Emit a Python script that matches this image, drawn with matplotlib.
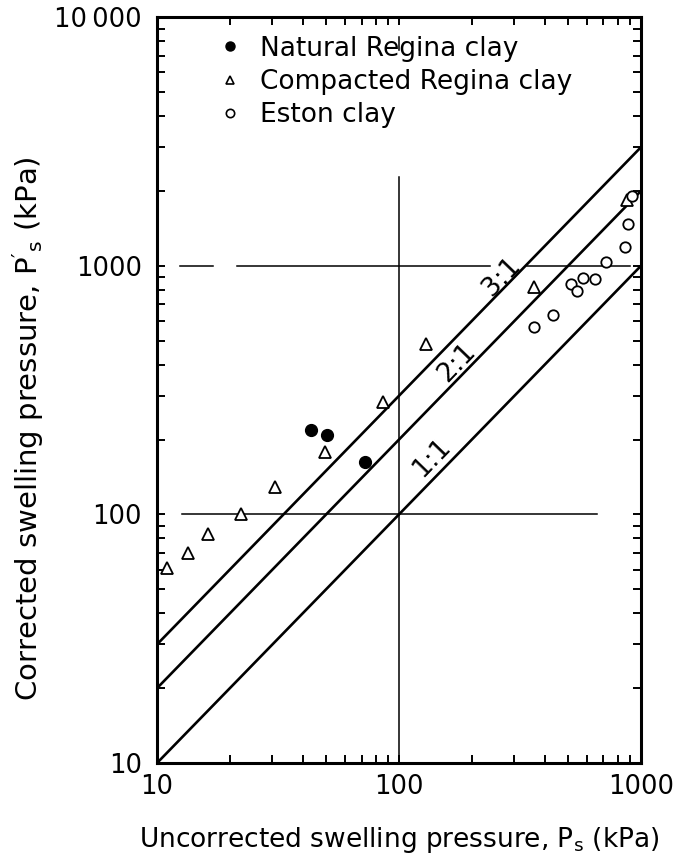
import matplotlib
matplotlib.use("Agg")
import matplotlib.pyplot as plt
from matplotlib.ticker import LogLocator, NullFormatter, FixedLocator, FixedFormatter
from matplotlib.lines import Line2D

plt.rcParams['font.family'] = ['DejaVu Sans']
plt.rcParams['mathtext.fontset'] = 'custom'
plt.rcParams['mathtext.rm'] = 'DejaVu Sans'

# Natural Regina clay (filled circles)
nat_x = [43.3, 50.4, 72.4]
nat_y = [219, 209, 163]

# Compacted Regina clay (open triangles)
comp_x = [11.0, 13.4, 16.3, 22.2, 30.8, 49.4, 85.9, 129, 361, 875]
comp_y = [60.7, 69.7, 83.2, 100, 129, 179, 284, 486, 824, 1842]

# Eston clay (open circles)
eston_x = [361, 433, 514, 544, 576, 645, 717, 859, 883, 918]
eston_y = [569, 636, 847, 794, 895, 887, 1038, 1192, 1475, 1910]

# ratio lines corrected / uncorrected
ratios = [1, 2, 3]
ratio_labels = ["1:1", "2:1", "3:1"]
ratio_label_pos = [(137, 169), (174, 407), (267, 904)]

x_ticks = [10, 100, 1000]
x_ticklabels = ["10", "100", "1000"]
y_ticks = [10, 100, 1000, 10000]
y_ticklabels = ["10", "100", "1000", "10\u2009000"]

fig = plt.figure(figsize=(6.78, 8.58), dpi=100)
ax = fig.add_axes([0.2316, 0.1107, 0.7138, 0.8693])
ax.set_xscale('log')
ax.set_yscale('log')
ax.set_xlim(10, 1000)
ax.set_ylim(10, 10000)

# reference lines at 100 / 1000 kPa
lw_ref = 1.1
ax.plot([100, 100], [10, 2275], color='black', lw=lw_ref)
ax.plot([100, 100], [10**(4 - 20/249), 10**(4 - 33/249)], color='black', lw=lw_ref)
ax.plot([12.7, 658], [100, 100], color='black', lw=lw_ref)
ax.plot([12.4, 17.0], [1000, 1000], color='black', lw=lw_ref)
ax.plot([21.4, 238], [1000, 1000], color='black', lw=lw_ref)
ax.plot([338, 902], [1000, 1000], color='black', lw=lw_ref)

# ratio lines
xs = [10, 1000]
for r, lab, (tx, ty) in zip(ratios, ratio_labels, ratio_label_pos):
    ax.plot(xs, [r * v for v in xs], color='black', lw=1.9, solid_capstyle='butt')
    ax.text(tx, ty, lab, fontsize=19, rotation=46, rotation_mode='anchor',
            ha='center', va='center')

ax.plot(nat_x, nat_y, 'o', color='black', ms=8.5, clip_on=False)
ax.plot(comp_x, comp_y, '^', mfc='white', mec='black', mew=1.3, ms=8, clip_on=False)
ax.plot(eston_x, eston_y, 'o', mfc='white', mec='black', mew=1.3, ms=7.5, clip_on=False)

# axes, ticks
for s in ax.spines.values():
    s.set_linewidth(2.2)
ax.xaxis.set_major_locator(FixedLocator(x_ticks))
ax.xaxis.set_major_formatter(FixedFormatter(x_ticklabels))
ax.yaxis.set_major_locator(FixedLocator(y_ticks))
ax.yaxis.set_major_formatter(FixedFormatter(y_ticklabels))
ax.xaxis.set_minor_locator(LogLocator(base=10, subs=range(2, 10)))
ax.yaxis.set_minor_locator(LogLocator(base=10, subs=range(2, 10)))
ax.xaxis.set_minor_formatter(NullFormatter())
ax.yaxis.set_minor_formatter(NullFormatter())
ax.tick_params(which='both', direction='in', top=True, right=True,
               width=1.4, labelsize=18.5)
ax.tick_params(which='minor', length=6)
ax.tick_params(which='major', length=6)
ax.tick_params(axis='y', pad=11)
ax.tick_params(axis='x', pad=8)

ax.set_xlabel(r"Uncorrected swelling pressure, $\mathregular{P_s}$ (kPa)", fontsize=19, labelpad=18)
ax.set_ylabel(r"Corrected swelling pressure, $\mathregular{P'_s}$ (kPa)", fontsize=21)
ax.yaxis.set_label_coords(0.068, 0.501, transform=fig.transFigure)

handles = [
    Line2D([], [], ls='none', marker='o', color='black', ms=6.5),
    Line2D([], [], ls='none', marker='^', mfc='white', mec='black', mew=1.2, ms=6),
    Line2D([], [], ls='none', marker='o', mfc='white', mec='black', mew=1.2, ms=6),
]
ax.legend(handles, ["Natural Regina clay", "Compacted Regina clay", "Eston clay"],
          loc='upper left', bbox_to_anchor=(0.09, 1.0), frameon=False,
          fontsize=19, handlelength=0.8, handletextpad=0.75, labelspacing=0.27,
          borderpad=0.2)

fig.savefig("out.png", dpi=100)
